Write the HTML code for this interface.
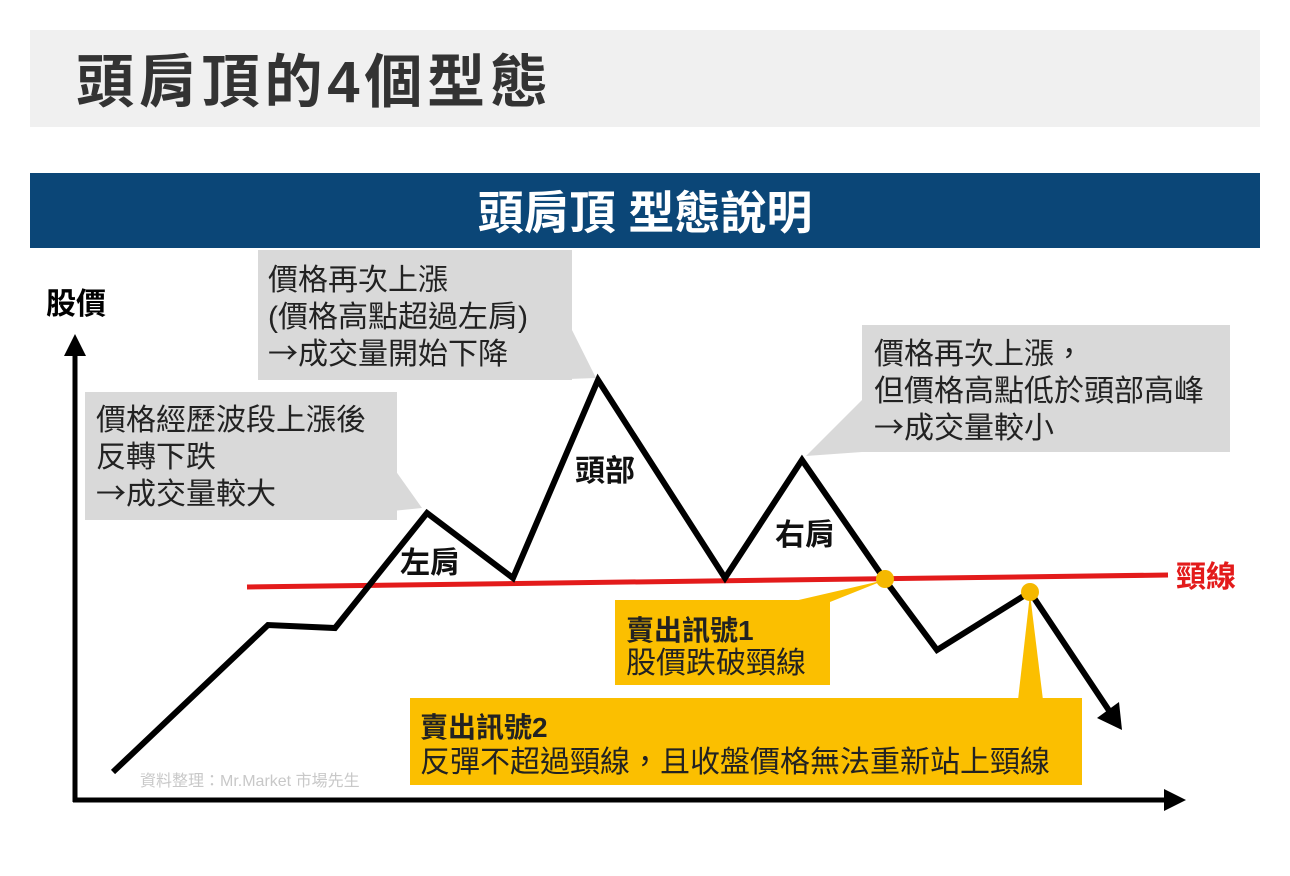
<!DOCTYPE html>
<html><head><meta charset="utf-8"><style>
html,body{margin:0;padding:0;background:#fff;}
svg{display:block;font-family:"Liberation Sans","Noto Sans CJK TC",sans-serif;}
.c{font-family:"Noto Sans CJK TC",sans-serif;}
</style></head><body>
<svg width="1290" height="876" viewBox="0 0 1290 876" xmlns="http://www.w3.org/2000/svg">
<rect x="30" y="30" width="1230" height="97" fill="#f0f0f0"/>
<text x="76" y="102" font-size="58" font-weight="bold" fill="#333" textLength="472" lengthAdjust="spacing">頭肩頂的4個型態</text>
<rect x="30" y="173" width="1230" height="75" fill="#0b4677"/>
<text x="645" y="229" font-size="46" font-weight="bold" fill="#fff" text-anchor="middle">頭肩頂 型態說明</text>

<rect x="85" y="392" width="312" height="128" fill="#d9d9d9"/>
<polygon points="352,515 395,470 422,508" fill="#d9d9d9"/>
<text font-size="30" fill="#222"><tspan x="96" y="430">價格經歷波段上漲後</tspan><tspan x="96" y="467">反轉下跌</tspan><tspan x="96" y="504" class="c">→成交量較大</tspan></text>

<rect x="258" y="250" width="314" height="130" fill="#d9d9d9"/>
<polygon points="540,380 572,330 596,378" fill="#d9d9d9"/>
<text font-size="30" fill="#222"><tspan x="268" y="290">價格再次上漲</tspan><tspan x="268" y="327">(價格高點超過左肩)</tspan><tspan x="268" y="364" class="c">→成交量開始下降</tspan></text>

<rect x="862" y="325" width="368" height="127" fill="#d9d9d9"/>
<polygon points="862,400 862,452 806,456" fill="#d9d9d9"/>
<text font-size="30" fill="#222"><tspan x="874" y="364">價格再次上漲，</tspan><tspan x="874" y="401">但價格高點低於頭部高峰</tspan><tspan x="874" y="438" class="c">→成交量較小</tspan></text>

<line x1="75" y1="802" x2="75" y2="350" stroke="#000" stroke-width="5"/>
<polygon points="64,356 75,334 86,356" fill="#000"/>
<line x1="73" y1="800" x2="1170" y2="800" stroke="#000" stroke-width="5"/>
<polygon points="1164,789 1186,800 1164,811" fill="#000"/>
<text x="46" y="314" font-size="30" font-weight="bold" fill="#000">股價</text>

<line x1="247" y1="587" x2="1168" y2="575" stroke="#e31b1b" stroke-width="5"/>
<text x="1176" y="587" font-size="30" font-weight="bold" fill="#e31b1b">頸線</text>

<polygon points="790,602 830,602 885,580" fill="#fbbf00"/>
<rect x="615" y="600" width="215" height="85" fill="#fbbf00"/>
<text x="626" y="640" font-size="28" font-weight="bold" fill="#222">賣出訊號1</text>
<text x="626" y="673" font-size="30" fill="#222">股價跌破頸線</text>
<polygon points="1018,700 1043,700 1030,594" fill="#fbbf00"/>
<rect x="410" y="698" width="672" height="87" fill="#fbbf00"/>
<text x="420" y="737" font-size="28" font-weight="bold" fill="#222">賣出訊號2</text>
<text x="420" y="772" font-size="30" fill="#222">反彈不超過頸線，且收盤價格無法重新站上頸線</text>

<polyline points="113,772 268,625 335,628 427,513 513,578 598,380 725,578 802,460 885,580 937,650 1030,592 1110,712" fill="none" stroke="#000" stroke-width="6"/>
<polygon points="1097,718 1122,730 1119,702" fill="#000"/>

<circle cx="885" cy="579" r="9" fill="#f5b800"/>
<circle cx="1030" cy="592" r="9" fill="#f5b800"/>

<text x="400" y="573" font-size="30" font-weight="bold" fill="#111">左肩</text>
<text x="575" y="481" font-size="30" font-weight="bold" fill="#111">頭部</text>
<text x="775" y="545" font-size="30" font-weight="bold" fill="#111">右肩</text>
<text x="140" y="786" font-size="16" fill="#c8c8c8">資料整理：Mr.Market 市場先生</text>
</svg>
</body></html>
